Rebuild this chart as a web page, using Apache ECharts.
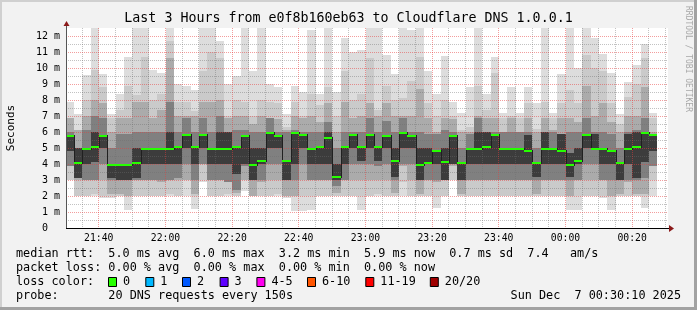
<!DOCTYPE html>
<html><head><meta charset="utf-8">
<script src="https://cdn.jsdelivr.net/npm/echarts@6/dist/echarts.min.js"></script>
<style>html,body{margin:0;padding:0;background:#f2f2f2;}#c{width:697px;height:310px;}</style>
</head><body><div id="c"></div>
<script>
// ---- data (milliseconds) ----
const stepMinutes = 2.5;               // 150 s per column
const startMinute = 30 + 10 / 60;      // 21:30:10 expressed as minutes after 21:00
const medianRtt = [5.8,4.1,5.0,5.1,5.8,4.0,4.0,4.0,4.1,5.0, 5.0,5.0,5.0,5.1,5.9,5.1,5.9,5.0,5.0,5.0,
 5.1,5.8,4.0,4.25,6.0,5.8,4.25,6.0,5.9,5.0, 5.1,5.7,3.25,5.1,5.9,5.1,5.9,5.1,5.8,4.25,
 6.0,5.8,4.0,4.1,4.9,4.2,5.8,4.1,5.0,5.0, 5.1,5.9,5.0,5.0,5.0,4.9,4.1,5.0,5.0,4.9,
 4.0,4.25,5.9,5.0,5.0,4.9,4.1,5.0,5.1,6.0, 5.9];
const smokeMin = [3.0,2.0,2.0,2.0,1.9,1.9,2.0,1.15,2.0,2.0, 2.0,2.0,2.0,2.0,2.0,1.2,2.9,2.0,2.0,2.0,
 2.0,2.3,2.0,2.0,2.0,2.0,1.9,1.05,1.05,1.1, 2.0,2.0,2.0,2.0,2.0,1.15,2.0,2.0,2.0,2.0,
 2.0,2.0,2.0,2.0,1.25,2.0,3.0,2.0,2.0,2.0, 2.0,2.0,2.0,2.0,2.0,2.0,2.0,2.0,2.0,2.0,
 1.15,1.15,2.0,2.0,1.9,1.15,2.0,2.0,2.0,1.25, 2.0];
const smokeLo2 = [3.0,2.0,2.0,2.1,2.0,2.0,2.0,2.0,2.0,2.0, 2.0,2.0,2.1,2.0,3.0,2.0,3.0,2.0,2.0,2.1,
 2.0,3.0,2.0,2.0,2.0,2.1,2.0,2.0,2.0,2.0, 2.0,2.0,2.0,2.0,2.0,2.0,2.0,2.1,2.0,2.0,
 2.9,2.0,2.0,2.0,2.0,2.0,3.0,2.0,2.0,2.0, 2.0,2.0,2.0,2.0,2.0,2.0,2.0,2.0,2.0,2.0,
 2.0,2.0,2.0,2.0,2.0,2.0,2.0,2.0,2.0,2.0, 3.0];
const smokeLo3 = [3.9,3.0,3.0,3.0,3.0,2.1,2.1,2.0,3.0,3.0, 3.0,2.9,3.0,3.0,3.0,2.1,4.0,3.0,3.0,2.9,
 2.2,3.0,2.0,2.9,3.0,3.0,2.0,2.0,3.0,3.0, 3.0,3.0,2.2,3.0,3.0,3.0,3.0,3.0,3.0,2.2,
 3.9,3.0,2.1,3.0,2.9,3.0,3.9,2.1,3.0,3.0, 3.0,3.0,3.0,3.0,3.0,3.0,2.1,3.0,3.0,3.0,
 2.0,3.0,3.0,3.0,3.0,2.0,2.1,2.9,2.1,2.1, 3.9];
const smokeLo4 = [3.9,3.1,3.0,3.0,4.0,3.0,3.0,3.0,3.0,3.0, 3.0,3.0,3.0,3.1,4.0,3.0,4.0,3.0,3.0,2.9,
 2.4,3.9,3.0,3.0,4.0,4.0,3.0,3.0,4.0,3.0, 3.0,3.0,2.6,3.0,4.0,4.0,4.0,3.9,4.0,3.0,
 4.0,4.0,3.0,3.0,3.0,3.0,4.0,3.0,3.0,3.0, 3.0,3.0,3.0,3.0,3.0,3.0,3.0,3.0,3.0,3.0,
 3.0,3.0,4.0,4.0,3.0,3.0,3.0,3.0,3.0,3.1, 3.9];
const smokeLo5 = [4.8,3.1,4.0,4.1,5.0,3.1,3.0,3.0,3.1,4.0, 4.0,4.0,4.0,4.0,5.0,4.0,5.0,4.0,4.0,4.0,
 3.4,4.0,3.0,4.0,5.0,5.0,3.0,4.0,5.0,4.0, 4.0,4.0,3.0,4.0,5.0,4.2,5.0,4.2,5.0,3.2,
 5.0,5.0,3.0,4.0,4.0,3.0,4.0,3.0,4.0,4.0, 4.0,4.0,4.0,4.0,4.0,4.0,3.2,4.0,4.0,4.0,
 3.2,4.0,5.0,5.0,4.0,4.0,3.0,4.0,3.1,4.1, 4.8];
const smokeHi5 = [5.8,5.0,5.0,6.0,5.8,4.0,4.0,4.0,5.0,5.0, 5.0,5.0,6.0,5.1,5.9,5.1,5.9,5.0,6.0,6.0,
 5.1,5.8,5.0,5.0,6.0,5.8,4.25,6.0,5.9,5.0, 5.1,6.0,4.0,5.1,5.9,5.1,5.9,5.1,5.8,5.0,
 6.0,5.8,5.0,5.0,4.9,5.0,5.8,4.1,5.0,6.0, 6.0,5.9,5.0,5.0,5.0,5.8,4.1,6.0,5.0,5.9,
 4.7,5.0,5.9,5.9,5.0,4.9,4.1,5.9,6.0,6.0, 5.9];
const smokeHi4 = [6.0,5.0,6.1,7.0,6.9,5.0,5.9,5.9,6.0,6.0, 6.0,6.0,7.9,6.0,6.9,6.0,6.9,6.0,7.0,6.0,
 6.1,6.1,6.0,6.0,6.9,6.0,6.0,6.1,6.0,6.0, 6.0,6.6,5.0,6.0,6.0,6.0,6.9,6.0,6.7,6.0,
 6.9,6.0,6.0,5.9,5.9,6.1,6.0,5.0,5.9,6.9, 6.0,6.0,6.0,6.0,6.0,6.0,5.0,6.0,6.0,5.9,
 6.0,6.0,6.9,6.0,6.0,5.9,5.0,6.0,6.1,6.9, 5.9];
const smokeHi3 = [6.9,6.1,7.0,8.0,7.8,6.0,6.9,6.9,7.9,7.9, 6.9,7.4,10.6,7.0,7.0,7.0,7.9,7.9,8.0,6.9,
 7.0,7.0,6.5,7.0,6.9,6.8,6.1,7.0,6.9,7.0, 6.6,7.8,6.0,7.9,6.9,7.0,7.8,7.0,7.8,7.0,
 7.0,7.0,8.7,6.9,6.0,6.9,6.8,6.0,6.0,7.0, 6.9,6.9,6.0,6.9,6.0,6.9,6.0,6.9,6.1,6.9,
 6.9,6.6,8.9,7.0,7.8,6.6,6.0,7.0,7.0,8.8, 6.0];
const smokeHi2 = [6.9,6.1,8.0,9.9,8.8,6.9,7.4,8.9,8.3,10.7, 8.0,8.4,11.7,7.9,7.9,7.3,9.8,11.0,10.6,7.0,
 8.0,7.9,7.0,8.0,7.9,7.8,6.3,7.9,7.0,8.4, 7.7,8.8,7.0,9.8,8.0,8.4,10.6,7.4,8.9,8.0,
 8.1,9.2,10.7,7.8,7.0,8.0,7.0,6.1,6.3,8.9, 7.35,9.7,6.9,7.0,6.9,7.8,6.2,7.9,6.9,7.8,
 8.6,7.8,10.8,10.0,9.8,7.8,6.5,8.2,9.0,10.6, 6.9];
const smokeMax = [7.9,7.1,9.55,12.6,9.65,7.1,8.35,10.7,12.6,12.6, 9.9,9.7,12.6,9.0,8.9,8.65,12.6,12.6,11.7,9.0,
 9.5,12.6,9.8,12.6,9.0,8.8,7.1,8.9,8.5,12.4, 8.4,12.6,8.5,11.9,11.0,11.1,12.6,12.6,10.8,9.65,
 12.6,12.35,12.6,9.8,8.35,10.75,7.9,7.2,8.8,12.6, 8.35,10.7,7.2,8.8,7.2,8.8,7.8,12.6,7.2,9.6,
 12.6,10.0,12.6,11.9,10.9,9.7,7.1,9.1,10.2,11.5, 7.2];
const xTickLabels = ['21:40','22:00','22:20','22:40','23:00','23:20','23:40','00:00','00:20'];
const yTickValues = [0,1,2,3,4,5,6,7,8,9,10,11,12];
const lossColorLabels = ['0','1','2','3','4-5','6-10','11-19','20/20'];
const lossColors = ['#26ff00','#00b8ff','#0059ff','#5e00ff','#ff00f0','#ff5500','#ff0000','#a00000'];
const titleText = 'Last 3 Hours from e0f8b160eb63 to Cloudflare DNS 1.0.0.1';
const statLines = [
  'median rtt:  5.0 ms avg  6.0 ms max  3.2 ms min  5.9 ms now  0.7 ms sd  7.4   am/s',
  'packet loss: 0.00 % avg  0.00 % max  0.00 % min  0.00 % now',
  'loss color:',
  'probe:       20 DNS requests every 150s'
];
const stampText = 'Sun Dec  7 00:30:10 2025';

// ---- layout / style ----
const MONO = '"DejaVu Sans Mono", monospace';
const G = {left: 66, top: 28, width: 602, height: 200};   // 16 px per ms, 200 px per 60 min
const yMax = G.height / 16;
const xMax = startMinute + 180 * G.width / 600;
const smokeShades = ['#dddddd', '#cacaca', '#ababab', '#808080', '#3c3c3c'];
const majorGrid = 'rgba(232,60,60,0.5)', minorGrid = 'rgba(110,110,110,0.42)';
const lossBoxX = [108, 145.3, 182, 219.6, 256.4, 307, 365.3, 429.8];

function toMinute(s) { const p = s.split(':').map(Number); return (p[0] < 21 ? p[0] + 24 : p[0]) * 60 + p[1] - 21 * 60; }
const xTickValues = xTickLabels.map(toMinute);
const xMinorValues = [];
for (let m = 35; m < xMax; m += 5) if (m % 20 !== 0) xMinorValues.push(m);
const yMinorValues = yTickValues.map(v => v + 0.5).filter(v => v < yMax);
const yMajorValues = yTickValues.slice(1);

const cols = medianRtt.map((m, i) => [startMinute + stepMinutes * i, startMinute + stepMinutes * (i + 1),
  smokeMin[i], smokeLo2[i], smokeLo3[i], smokeLo4[i], smokeLo5[i], smokeHi5[i], smokeHi4[i], smokeHi3[i], smokeHi2[i], smokeMax[i], m]);

const px = (api, v) => Math.floor(api.coord([v, 0])[0] + 1e-6);
function py(api, v, cs) {
  const y = Math.round(api.coord([startMinute, v])[1]);
  return cs ? Math.max(cs.y, Math.min(cs.y + cs.height, y)) : y;
}
function renderSmoke(params, api) {
  const cs = params.coordSys;
  const x0 = px(api, api.value(0)), x1 = px(api, api.value(1));
  const ch = [];
  for (let L = 0; L < 5; L++) {
    const yLo = py(api, api.value(2 + L), cs), yHi = py(api, api.value(11 - L), cs);
    ch.push({type: 'rect', shape: {x: x0, y: yHi, width: x1 - x0, height: yLo - yHi}, style: {fill: smokeShades[L]}});
  }
  return {type: 'group', children: ch};
}
function renderMedian(params, api) {
  const i = params.dataIndex;
  const x0 = px(api, api.value(0)), x1 = px(api, api.value(1));
  const y = py(api, api.value(12));
  const yp = py(api, i > 0 ? medianRtt[i - 1] : api.value(12));
  return {type: 'group', children: [
    {type: 'rect', shape: {x: x0, y: Math.min(yp, y), width: 1, height: Math.abs(yp - y) + 2}, style: {fill: '#202020'}},
    {type: 'rect', shape: {x: x0, y: y, width: x1 - x0, height: 2}, style: {fill: lossColors[0]}}
  ]};
}
// dotted grid lines, one pixel on / one pixel off
function vLine(color) {
  return function (params, api) {
    const cs = params.coordSys;
    const x = px(api, api.value(0));
    const ch = [];
    for (let y = cs.y; y < cs.y + cs.height; y += 2)
      ch.push({type: 'rect', shape: {x: x, y: y, width: 1, height: 1}, style: {fill: color}});
    return {type: 'group', children: ch};
  };
}
function hLine(color) {
  return function (params, api) {
    const cs = params.coordSys;
    const y = py(api, api.value(1));
    const ch = [];
    for (let x = cs.x + 2; x < cs.x + cs.width; x += 2)
      ch.push({type: 'rect', shape: {x: x, y: y, width: 1, height: 1}, style: {fill: color}});
    return {type: 'group', children: ch};
  };
}
function txt(text, x, y, size, opts) {
  opts = opts || {};
  return {type: 'text', x: x, y: y, rotation: opts.rot || 0, silent: true, z: 100,
    style: {text: text, x: 0, y: 0, font: size + 'px ' + MONO, fill: opts.color || '#000',
      align: opts.align || 'left', textAlign: opts.align || 'left', verticalAlign: 'middle', textVerticalAlign: 'middle'}};
}
const axisRow = G.top + G.height;   // pixel row of the time axis (value 0)
const graphics = [
  {type: 'rect', shape: {x: 0, y: 0, width: 697, height: 2}, style: {fill: '#d0d0d0'}, silent: true},
  {type: 'rect', shape: {x: 0, y: 0, width: 2, height: 310}, style: {fill: '#d0d0d0'}, silent: true},
  {type: 'rect', shape: {x: 694, y: 0, width: 3, height: 310}, style: {fill: '#a2a2a2'}, silent: true},
  {type: 'rect', shape: {x: 0, y: 307, width: 697, height: 3}, style: {fill: '#a2a2a2'}, silent: true},
  txt(titleText, 348.5, 19, 13.3, {align: 'center'}),
  txt('Seconds', 11, 128, 11, {align: 'center', rot: Math.PI / 2}),
  txt('RRDTOOL / TOBI OETIKER', 688, 59, 8, {align: 'center', rot: -Math.PI / 2, color: '#a8a8a8'}),
  // axes with arrow heads
  {type: 'rect', z: 50, shape: {x: G.left, y: axisRow, width: G.width + 1, height: 1}, style: {fill: '#000'}, silent: true},
  {type: 'polygon', z: 50, shape: {points: [[G.left + G.width + 1, axisRow - 3], [G.left + G.width + 6, axisRow + 0.5], [G.left + G.width + 1, axisRow + 4]]}, style: {fill: '#8b1a1a'}, silent: true},
  {type: 'rect', z: 50, shape: {x: G.left, y: G.top - 3, width: 1, height: G.height + 3}, style: {fill: '#555'}, silent: true},
  {type: 'polygon', z: 50, shape: {points: [[G.left - 2.5, G.top - 2], [G.left + 0.5, G.top - 7], [G.left + 3.5, G.top - 2]]}, style: {fill: '#8b1a1a'}, silent: true},
  txt(stampText, 681, 296, 11.8, {align: 'right'})
];
statLines.forEach((s, i) => graphics.push(txt(s, 16, 254 + 14 * i, 11.8)));
lossColorLabels.forEach((lab, i) => {
  graphics.push({type: 'rect', shape: {x: lossBoxX[i] + 0.5, y: 277.5, width: 8, height: 9}, style: {fill: lossColors[i], stroke: '#000', lineWidth: 1}, silent: true});
  graphics.push(txt(lab, lossBoxX[i] + 15, 282, 11.8));
});

const chart = echarts.init(document.getElementById('c'), null, {renderer: 'canvas'});
chart.setOption({
  animation: false,
  backgroundColor: '#f2f2f2',
  grid: {left: G.left, top: G.top, width: G.width, height: G.height, show: true, backgroundColor: '#ffffff', borderWidth: 0},
  xAxis: {type: 'value', min: startMinute, max: xMax,
    axisLine: {show: false}, axisTick: {show: false}, splitLine: {show: false},
    axisLabel: {customValues: xTickValues, formatter: v => xTickLabels[xTickValues.indexOf(v)] || '', color: '#000', fontFamily: MONO, fontSize: 9.75, margin: 5}},
  yAxis: {type: 'value', min: 0, max: yMax, interval: 1,
    axisLine: {show: false}, axisTick: {show: false}, splitLine: {show: false},
    axisLabel: {customValues: yTickValues, formatter: v => v === 0 ? '0  ' : v + ' m', color: '#000', fontFamily: MONO, fontSize: 10, margin: 6}},
  graphic: {elements: graphics},
  series: [
    {type: 'custom', name: 'smoke', silent: true, z: 2, renderItem: renderSmoke, data: cols, encode: {x: [0, 1], y: 12}},
    {type: 'custom', silent: true, z: 3, renderItem: vLine(minorGrid), data: xMinorValues.map(v => [v, 0]), encode: {x: 0, y: 1}},
    {type: 'custom', silent: true, z: 3, renderItem: hLine(minorGrid), data: yMinorValues.map(v => [startMinute, v]), encode: {x: 0, y: 1}},
    {type: 'custom', silent: true, z: 3, renderItem: vLine(majorGrid), data: xTickValues.map(v => [v, 0]), encode: {x: 0, y: 1}},
    {type: 'custom', silent: true, z: 3, renderItem: hLine(majorGrid), data: yMajorValues.map(v => [startMinute, v]), encode: {x: 0, y: 1}},
    {type: 'custom', name: 'median rtt', silent: true, z: 4, renderItem: renderMedian, data: cols, encode: {x: [0, 1], y: 12}}
  ]
});
</script></body></html>
